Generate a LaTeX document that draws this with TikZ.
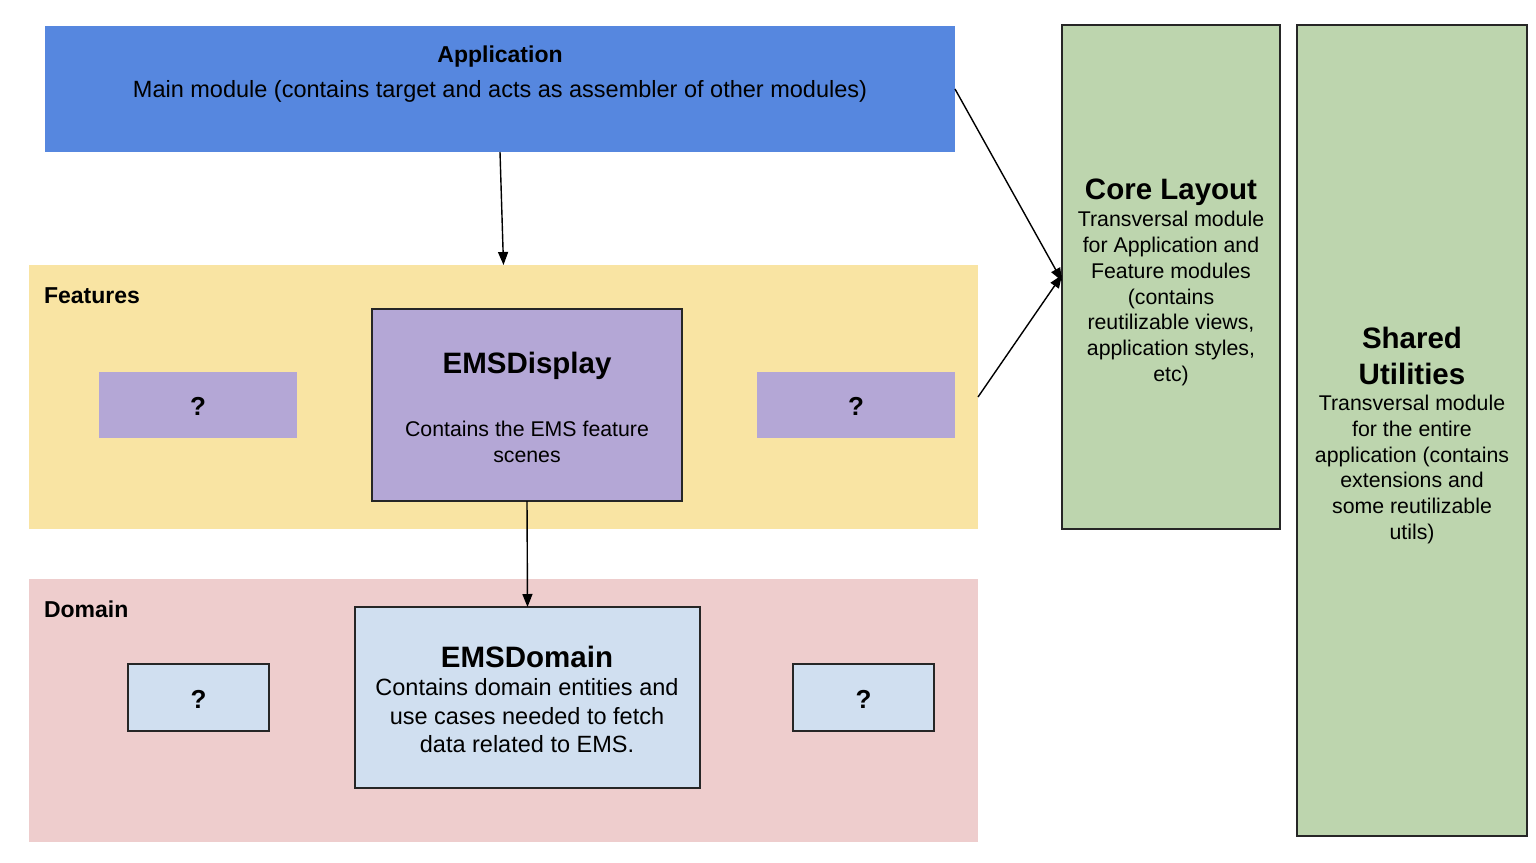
\documentclass[tikz,border=0pt]{standalone}
\usepackage{fontspec}
\setmainfont{Liberation Sans}
\usetikzlibrary{arrows.meta}
\definecolor{appblue}{HTML}{5687DF}
\definecolor{featyellow}{HTML}{F9E4A3}
\definecolor{dompink}{HTML}{EECDCD}
\definecolor{modpurple}{HTML}{B4A7D6}
\definecolor{modblue}{HTML}{D0DFF0}
\definecolor{modgreen}{HTML}{BDD5AE}
\newcommand\bodyfont{\fontsize{21.3}{25.8}\selectfont}
\newcommand\bigbodyfont{\fontsize{23.5}{28.5}\selectfont}
\newcommand\titlefont{\fontsize{29.5}{36}\selectfont\bfseries}
\newcommand\labelfont{\fontsize{23}{28}\selectfont\bfseries}
\newcommand\qfont{\fontsize{26}{30}\selectfont\bfseries}
\begin{document}
\begin{tikzpicture}[x=1pt,y=-1pt,
  area/.style={inner sep=0pt, outer sep=0pt, draw=none},
  module/.style={inner sep=0pt, outer sep=0pt, draw=black!85, line width=1.3pt},
  txt/.style={inner sep=0pt, outer sep=0pt, align=center},
  conn/.style={line width=1.4pt, -{Triangle[length=13pt,width=10pt]}}
]
\useasboundingbox[fill=white] (0,0) rectangle (1536,862);

% groups
\node[area, fill=appblue, minimum width=910pt, minimum height=126pt] (app) at (500,89) {};
\node[area, fill=featyellow, minimum width=949pt, minimum height=264pt] (feat) at (503.5,397) {};
\node[area, fill=dompink, minimum width=949pt, minimum height=263pt] (dom) at (503.5,710.5) {};

% modules
\node[module, fill=modpurple, minimum width=310pt, minimum height=192pt] (disp) at (527,405) {};
\node[area, fill=modpurple, minimum width=198pt, minimum height=66pt] (fq1) at (198,405) {};
\node[area, fill=modpurple, minimum width=198pt, minimum height=66pt] (fq2) at (856,405) {};
\node[module, fill=modblue, minimum width=345pt, minimum height=181pt] (edom) at (527.5,697.5) {};
\node[module, fill=modblue, minimum width=141pt, minimum height=67pt] (dq1) at (198.5,697.5) {};
\node[module, fill=modblue, minimum width=141pt, minimum height=67pt] (dq2) at (863.5,697.5) {};
\node[module, fill=modgreen, minimum width=218pt, minimum height=504pt] (core) at (1171,277) {};
\node[module, fill=modgreen, minimum width=230pt, minimum height=811pt] (shared) at (1412,430.5) {};

% texts
\node[txt, font=\labelfont] (apptitle) at (500,57) {Application};
\node[txt, font=\bigbodyfont] (apptext) at (500,91) {Main module (contains target and acts as assembler of other modules)};
\node[txt, font=\labelfont, anchor=west] (featlabel) at (44,296) {Features};
\node[txt, font=\labelfont, anchor=west] (domlabel) at (44,609) {Domain};

\node[txt, font=\titlefont] (disptitle) at (527,366) {EMSDisplay};
\node[txt, font=\bodyfont] (disptext) at (527,442) {Contains the EMS feature\\scenes};
\node[txt, font=\qfont] (fq1t) at (198,406) {?};
\node[txt, font=\qfont] (fq2t) at (856,406) {?};

\node[txt, font=\titlefont] (edomtitle) at (527,657) {EMSDomain};
\node[txt, font=\bigbodyfont] (edomtext) at (527,716) {Contains domain entities and\\use cases needed to fetch\\data related to EMS.};
\node[txt, font=\qfont] (dq1t) at (198.5,699) {?};
\node[txt, font=\qfont] (dq2t) at (863.5,699) {?};

\node[txt, font=\titlefont] (coretitle) at (1171,192) {Core Layout};
\node[txt, font=\bodyfont] (coretext) at (1171,298.5) {Transversal module\\for Application and\\Feature modules\\(contains\\reutilizable views,\\application styles,\\etc)};

\node[txt, font=\titlefont] (sharedtitle) at (1412,356) {Shared\\Utilities};
\node[txt, font=\bodyfont] (sharedtext) at (1412,469.5) {Transversal module\\for the entire\\application (contains\\extensions and\\some reutilizable\\utils)};

% connectors
\draw[conn] (app.south) -- (feat.north);
\draw[conn] (app.east) -- ([yshift=-4pt]core.west);
\draw[conn] (feat.east) -- ([yshift=2pt]core.west);
\draw[conn] (disp.south) -- (edom.north);
\end{tikzpicture}
\end{document}
